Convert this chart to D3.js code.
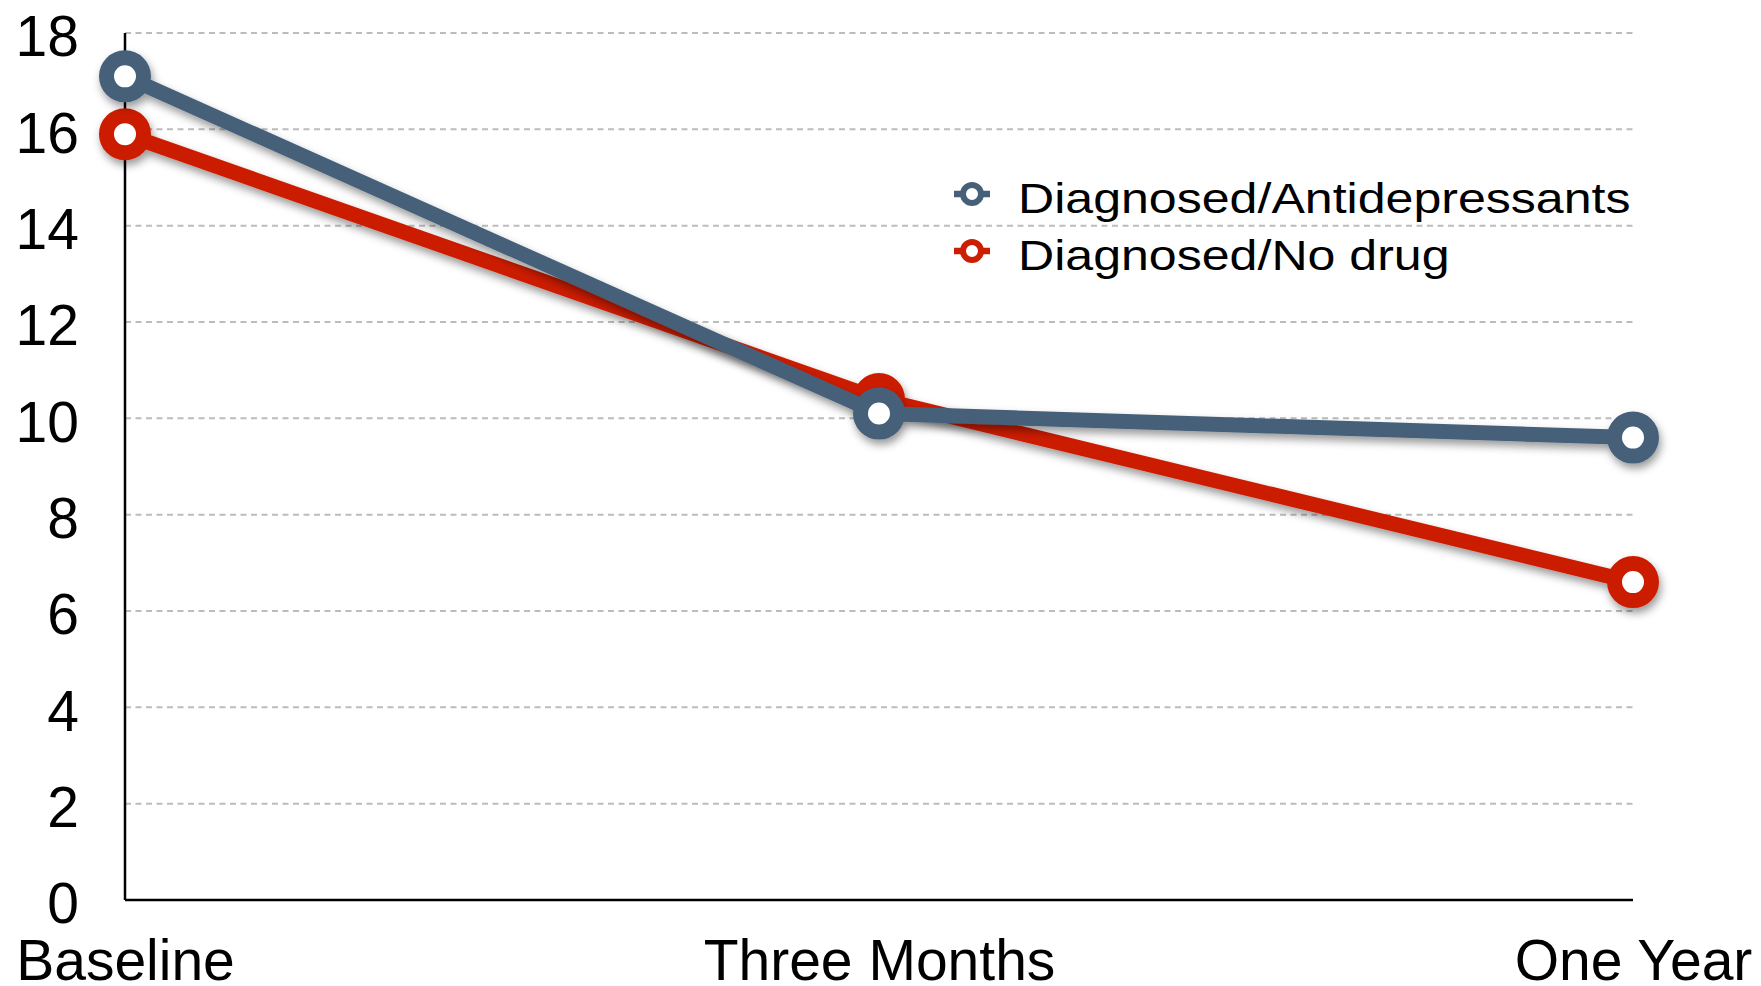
<!DOCTYPE html>
<html>
<head>
<meta charset="utf-8">
<script src="https://cdn.jsdelivr.net/npm/d3@7"></script>
<style>
  body { margin: 0; background: #fff; }
  svg { display: block; font-family: "Liberation Sans", Arial, Helvetica, sans-serif; }
</style>
</head>
<body>
<svg width="1761" height="986"></svg>
<script>
// data
var categories = ["Baseline", "Three Months", "One Year"];
var antidepressants = [17.1, 10.1, 9.6];
var noDrug = [15.9, 10.4, 6.6];
var yTicks = [0, 2, 4, 6, 8, 10, 12, 14, 16, 18];
var seriesNames = ["Diagnosed/Antidepressants", "Diagnosed/No drug"];

var svg = d3.select("svg"),
    margin = {top: 33, right: 128, bottom: 86, left: 125},
    width = +svg.attr("width") - margin.left - margin.right,
    height = +svg.attr("height") - margin.top - margin.bottom,
    g = svg.append("g").attr("transform", "translate(" + margin.left + "," + margin.top + ")");

var x = d3.scalePoint().domain(categories).range([0, width]);
var y = d3.scaleLinear().domain([0, 18]).range([height, 0]);

var colors = {blue: "#46607a", red: "#cc1e00"};

// schaduw onder lijnen en punten
var defs = svg.append("defs");
defs.append("filter")
    .attr("id", "shadow")
    .attr("x", "-20%").attr("y", "-20%").attr("width", "140%").attr("height", "140%")
  .append("feDropShadow")
    .attr("dx", 2).attr("dy", 5)
    .attr("stdDeviation", 4)
    .attr("flood-color", "#000")
    .attr("flood-opacity", 0.4);

// gridlijnen
g.append("g")
  .selectAll("line")
  .data(yTicks.filter(function(d) { return d > 0; }))
  .enter().append("line")
    .attr("x1", 0)
    .attr("x2", width)
    .attr("y1", function(d) { return y(d); })
    .attr("y2", function(d) { return y(d); })
    .attr("stroke", "#bcbcbc")
    .attr("stroke-width", 2)
    .attr("stroke-dasharray", "6,4.5");

// y-as labels
var yAxis = g.append("g")
    .call(d3.axisLeft(y).tickValues(yTicks).tickSize(0).tickPadding(46));
yAxis.select(".domain").remove();
yAxis.selectAll("text")
    .attr("font-size", 57)
    .attr("font-family", null)
    .attr("fill", "#000")
    .attr("dy", "0.4em");

// x-as labels
var xAxis = g.append("g")
    .attr("transform", "translate(0," + height + ")")
    .call(d3.axisBottom(x).tickSize(0).tickPadding(40));
xAxis.select(".domain").remove();
xAxis.selectAll("text")
    .attr("font-size", 57)
    .attr("font-family", null)
    .attr("fill", "#000")
    .attr("dy", "0.71em");

// assen
g.append("line")
    .attr("x1", 0).attr("x2", 0)
    .attr("y1", y(18)).attr("y2", y(0))
    .attr("stroke", "#000").attr("stroke-width", 2.5);
g.append("line")
    .attr("x1", 0).attr("x2", width)
    .attr("y1", y(0)).attr("y2", y(0))
    .attr("stroke", "#000").attr("stroke-width", 2.5);

var line = d3.line()
    .x(function(d, i) { return x(categories[i]); })
    .y(function(d) { return y(d); });

function drawSeries(values, color) {
  var s = g.append("g").attr("filter", "url(#shadow)");
  s.append("path")
      .datum(values)
      .attr("d", line)
      .attr("fill", "none")
      .attr("stroke", color)
      .attr("stroke-width", 15)
      .attr("stroke-linejoin", "round");
  s.selectAll("circle")
    .data(values)
    .enter().append("circle")
      .attr("cx", function(d, i) { return x(categories[i]); })
      .attr("cy", function(d) { return y(d); })
      .attr("r", 18.5)
      .attr("fill", "#fff")
      .attr("stroke", color)
      .attr("stroke-width", 15);
}

// rood eerst, blauw ligt erboven
drawSeries(noDrug, colors.red);
drawSeries(antidepressants, colors.blue);

// legenda
var legend = svg.append("g")
  .selectAll("g")
  .data(seriesNames)
  .enter().append("g")
    .attr("transform", function(d, i) { return "translate(972," + (194 + i * 57) + ")"; });

legend.append("line")
    .attr("x1", -18).attr("x2", 18)
    .attr("stroke", function(d, i) { return i === 0 ? colors.blue : colors.red; })
    .attr("stroke-width", 6.5);

legend.append("circle")
    .attr("r", 9)
    .attr("fill", "#fff")
    .attr("stroke", function(d, i) { return i === 0 ? colors.blue : colors.red; })
    .attr("stroke-width", 6);

legend.append("text")
    .attr("transform", "translate(46,19) scale(1.165,1)")
    .attr("font-size", 43)
    .attr("fill", "#000")
    .text(function(d) { return d; });
</script>
</body>
</html>
